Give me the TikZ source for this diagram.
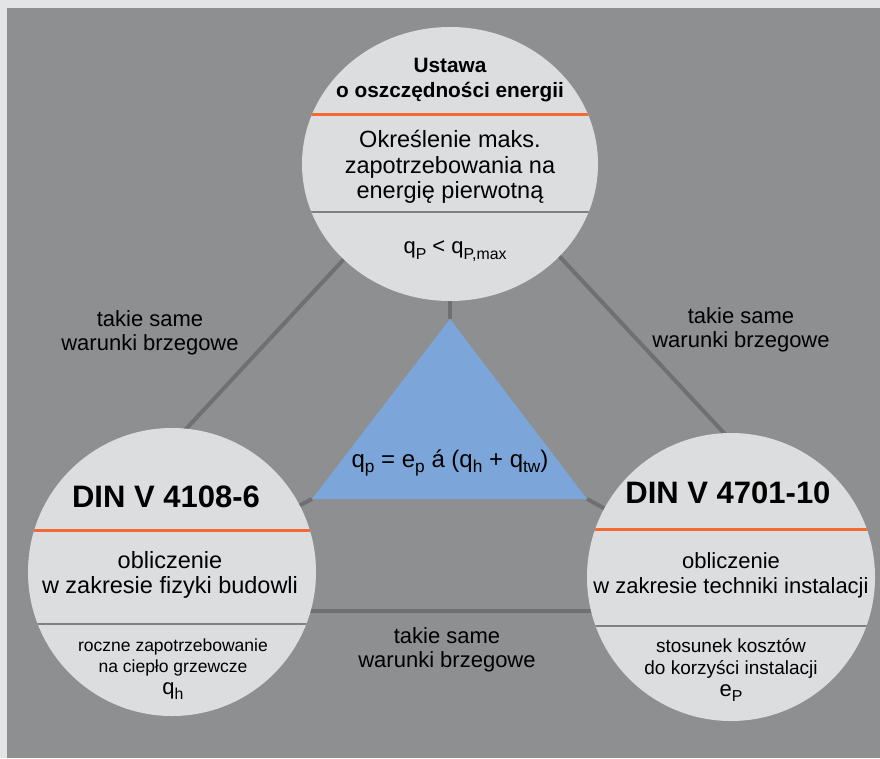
\documentclass[tikz,border=0pt]{standalone}
\usepackage{fontspec}
\setmainfont{Liberation Sans}
\usetikzlibrary{shapes.geometric}
\definecolor{framelight}{HTML}{E3E5E4}
\definecolor{bggray}{HTML}{8E8F91}
\definecolor{discfill}{HTML}{DCDDDF}
\definecolor{rulered}{HTML}{F26A30}
\definecolor{rulegray}{HTML}{7F8082}
\definecolor{linkgray}{HTML}{6F7072}
\definecolor{triblue}{HTML}{7CA6D9}
\newcommand{\lowsub}[1]{\raisebox{-0.24em}{\scalebox{0.72}{#1}}}
\tikzset{
  link/.style={draw=linkgray, line width=4pt},
  disc/.style={circle, fill=discfill, inner sep=0pt, minimum size=288pt},
  seps/.style 2 args={path picture={
    \draw[rulered, line width=3pt] ([shift={(-200pt,#1)}]path picture bounding box.center) -- ++(400pt,0pt);
    \draw[rulegray, line width=2pt] ([shift={(-200pt,#2)}]path picture bounding box.center) -- ++(400pt,0pt);}},
  lbl/.style={align=center, font=\fontsize{22}{24}\selectfont},
  head/.style={align=center, font=\fontsize{31}{34}\bfseries\selectfont},
  body/.style={align=center, font=\fontsize{23.5}{25.5}\selectfont},
  small/.style={align=center, font=\fontsize{19}{22}\selectfont}
}
\begin{document}
\begin{tikzpicture}[x=1pt, y=-1pt]
    % tlo
    \fill[framelight] (0,0) rectangle (880,758);
    \fill[bggray] (7,8) rectangle (880,758);
    \useasboundingbox (0,0) rectangle (880,758);

    % srodki kol i koncowki polaczen
    \coordinate (topc) at (450,164);
    \coordinate (leftc) at (172,572);
    \coordinate (rightc) at (731,577);
    \coordinate (lt1) at (173,443);
    \coordinate (lt2) at (357,245);
    \coordinate (rt1) at (548,244);
    \coordinate (rt2) at (737,447);
    \coordinate (lr1) at (290,611);
    \coordinate (lr2) at (610,611);

    % trojkat
    \coordinate (tria) at (450,319);
    \coordinate (trib) at (312,499);
    \coordinate (tric) at (587,499);

    % polaczenia
    \draw[link] (lt1) -- (lt2);
    \draw[link] (rt1) -- (rt2);
    \draw[link] (lr1) -- (lr2);
    \draw[link] (tria) -- (topc);
    \draw[link] (trib) -- (leftc);
    \draw[link] (tric) -- (rightc);
    \fill[triblue] (tria) -- (trib) -- (tric) -- cycle;
    \node[lbl, font=\fontsize{24}{26}\selectfont] (formula) at (450,463)
        {q\lowsub{p} = e\lowsub{p} á (q\lowsub{h} + q\lowsub{tw})};

    % kola
    \node[ellipse, fill=discfill, inner sep=0pt, minimum width=296pt, minimum height=274pt,
          seps={50pt}{-48pt}] (enev) at (topc) {};
    \node[disc, seps={42pt}{-52pt}] (din6) at (leftc) {};
    \node[disc, seps={48pt}{-49pt}] (din10) at (rightc) {};

    % teksty gora
    \node[lbl, font=\fontsize{20.8}{25}\bfseries\selectfont] (enevhead) at (450,80)
        {Ustawa\\o oszczędności energii};
    \node[body] (enevbody) at (450,167)
        {Określenie maks.\\zapotrzebowania na\\energię pierwotną};
    \node[lbl] (enevform) at (455,251) {q\lowsub{P} < q\lowsub{P,max}};

    % teksty lewo
    \node[head] (din6head) at (166,497) {DIN V 4108-6};
    \node[body] (din6body) at (170,575) {obliczenie\\w zakresie fizyki budowli};
    \node[small, font=\fontsize{17.5}{21.5}\selectfont] (din6res) at (173,669)
        {roczne zapotrzebowanie\\na ciepło grzewcze\\{\fontsize{22}{26}\selectfont q\lowsub{h}}};

    % teksty prawo
    \node[head] (din10head) at (728,493) {DIN V 4701-10};
    \node[body, font=\fontsize{22}{25}\selectfont] (din10body) at (731,575)
        {obliczenie\\w zakresie techniki instalacji};
    \node[small] (din10res) at (731,670)
        {stosunek kosztów\\do korzyści instalacji\\{\fontsize{22}{26}\selectfont e\lowsub{P}}};

    % etykiety polaczen
    \node[lbl] (ltlabel) at (150,333) {takie same\\warunki brzegowe};
    \node[lbl] (rtlabel) at (741,330) {takie same\\warunki brzegowe};
    \node[lbl] (lrlabel) at (447,650) {takie same\\warunki brzegowe};
\end{tikzpicture}
\end{document}
